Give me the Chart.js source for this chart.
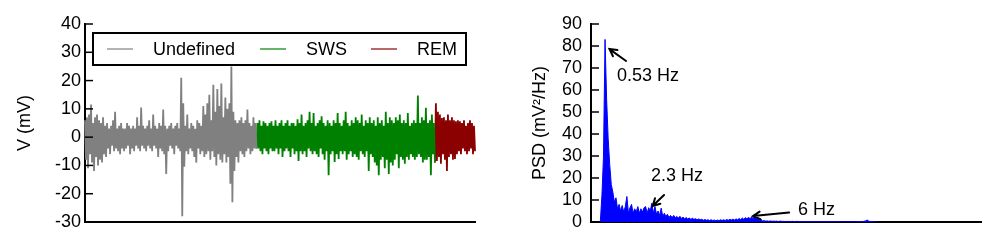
<!DOCTYPE html>
<html>
<head>
<meta charset="utf-8">
<script src="https://cdn.jsdelivr.net/npm/chart.js@4.4.1/dist/chart.umd.min.js"></script>
<style>
  body { margin: 0; background: #fff; }
  #wrap { position: relative; width: 997px; height: 248px; }
  canvas { position: absolute; top: 0; }
  #trace { left: 0; }
  #psd { left: 500px; }
</style>
</head>
<body>
<div id="wrap">
  <canvas id="trace" width="500" height="248"></canvas>
  <canvas id="psd" width="497" height="248"></canvas>
</div>
<script>
// sleep stages
const stages = ["Undefined", "SWS", "REM"];
const stageColors = ["#808080", "#008000", "#8b0000"];

// voltage trace (mV), alternating peaks and troughs
const undefinedV = [
  6, -8, 7, -11, 8, -6, 11.5, -9, 5, -12, 7, -7, 8, -10, 6, -8, 5, -9, 7, -6,
  4, -7, 5, -4, 3, -6, 4, -3, 6, -5, 9, -4, 3, -5, 4, -6, 5, -4, 3, -5,
  3, -4, 5, -3, 4, -6, 3, -4, 4, -5, 3, -3, 7, -4, 4, -5, 10.5, -3, 4, -4,
  3, -5, 4, -3, 6, -4, 3, -5, 8, -3, 4, -4, 3, -7, 5, -4, 4, -5, 9.8, -6,
  4, -13, 3, -5, 4, -3, 5, -4, 3, -6, 4, -3, 5, -4, 3, -5, 21, -28, 12, -10.5,
  4, -5, 8, -6, 3, -4, 5, -5, 4, -7, 3, -9, 6, -4, 5, -6, 4, -5, 11, -7,
  8, -6, 12, -5, 15, -8, 6, -5, 18.5, -7, 9, -10, 17, -6, 11, -8, 19, -9, 7, -6,
  14, -9, 10, -7, 12, -16.5, 25, -23, 9, -12, 6, -7, 5, -9, 6, -5, 7, -6, 5, -7,
  6, -5, 9.8, -4, 5, -6, 4, -5, 7, -4, 5, -4
];
const swsV = [
  5, -4, 6, -5, 4, -6, 5.6, -4, 5, -5, 4, -6, 5, -4, 5.6, -5, 4, -5, 6, -4,
  4, -6, 5, -4, 6, -7, 4, -5, 5, -4, 6, -5, 4, -7, 5, -4, 5, -6, 4, -5,
  6.3, -8.4, 5, -5, 8, -6, 4, -5, 5, -7, 6, -4, 9, -5, 5, -6, 8.5, -5, 4, -6,
  5, -7, 6, -4, 7.4, -6, 5, -8, 4, -5, 6, -13.5, 5, -6, 4, -5, 6, -8.8, 5, -6,
  8.5, -7.7, 5, -5, 4, -6, 6, -5, 9, -8, 5, -6, 4, -5, 6, -7, 5, -6, 7, -7,
  6, -8, 5, -5, 8, -6, 4, -7, 6, -5, 5, -12, 7, -6, 5, -7, 6, -9, 4, -10,
  7, -13.5, 5, -8, 6, -7, 4, -11, 9, -8, 5, -13, 7, -9, 6, -10, 5, -8, 7, -6,
  6, -11, 8, -7, 5, -8, 6, -9.4, 5, -7, 8.5, -8, 4, -6, 5, -7, 6, -8, 5, -7,
  14.7, -6, 5, -7, 7, -9, 6, -8, 10.4, -8, 5, -7, 6, -13.5, 8, -6, 5, -9
];
const remV = [
  12, -8.4, 9, -7, 8, -9.4, 6.8, -6, 7, -8, 6, -12, 8, -7, 6, -6, 7, -8, 6, -7.7,
  5.6, -6, 6, -5, 5.6, -6, 5, -4, 6, -5, 4, -6, 5, -5, 6, -4, 5, -6, 4, -5
];
const voltTicks = [-30, -20, -10, 0, 10, 20, 30, 40];

// power spectral density (mV^2/Hz), first bin and bin width in Hz
const psdStart = 0.36;
const psdStep = 0.06;
const psdPower = [
  0.5, 12, 29.5, 83, 56, 38, 26, 17, 13.6, 9,
  11, 6, 8, 5, 7.5, 4.5, 7, 11.6, 4, 6.5,
  8, 4, 6, 4.5, 7, 4, 6, 4.5, 6.5, 7,
  4, 6.5, 5, 8.5, 4, 7, 3.5, 5, 3, 6.3,
  2.5, 4, 2.5, 3.5, 2, 3, 2, 3, 2, 2.5,
  1.8, 2.6, 1.6, 2.2, 1.5, 2, 1.4, 1.8, 1.2, 1.7,
  1.2, 1.5, 1, 1.4, 1, 1.2, 0.8, 1.1, 0.8, 1,
  0.7, 1, 0.7, 0.9, 0.6, 0.9, 0.6, 1, 0.7, 1,
  0.7, 1.1, 0.8, 1.2, 0.9, 1.3, 0.9, 1.4, 1, 1.6,
  1.1, 1.8, 1.2, 2, 1.3, 2.2, 1.4, 2.4, 1.3, 3.5,
  1.2, 2, 0.8, 1.2, 0.5, 0.6, 0.4, 0.5, 0.3, 0.5,
  0.3, 0.4, 0.3, 0.4, 0.2, 0.4, 0.3, 0.3, 0.2, 0.3,
  0.2, 0.3, 0.2, 0.3, 0.2, 0.2, 0.3, 0.2, 0.2, 0.2,
  0.2, 0.2, 0.1, 0.2, 0.2, 0.1, 0.2, 0.1, 0.2, 0.1,
  0.1, 0.2, 0.1, 0.1, 0.2, 0.1, 0.1, 0.1, 0.2, 0.1,
  0.1, 0.1, 0.1, 0.2, 0.1, 0.1, 0.1, 0.1, 0.1, 0.2,
  0.1, 0.1, 0.1, 0.1, 0.1, 0.2, 0.1, 0.1, 0.2, 0.3,
  0.5, 0.9, 0.4, 0.2, 0.1, 0.1, 0.1, 0.1
];
const psdTicks = [0, 10, 20, 30, 40, 50, 60, 70, 80, 90];
const peakNotes = ["0.53 Hz", "2.3 Hz", "6 Hz"];

Chart.defaults.font.family = '"Liberation Sans", Arial, sans-serif';
Chart.defaults.font.size = 18;
Chart.defaults.color = '#000';
Chart.defaults.animation = false;

// matplotlib style ticks pointing into the plot
const inwardTicks = {
  id: 'inwardTicks',
  afterDraw(chart) {
    const { ctx, chartArea: ca } = chart;
    const ys = chart.scales.y;
    ctx.save();
    ctx.strokeStyle = '#000';
    ctx.lineWidth = 1.5;
    ys.ticks.forEach(t => {
      const y = ys.getPixelForValue(t.value);
      ctx.beginPath();
      ctx.moveTo(ca.left, y);
      ctx.lineTo(ca.left + 8, y);
      ctx.stroke();
    });
    ctx.restore();
  }
};

// framed legend inside the trace panel
const stageLegend = {
  id: 'stageLegend',
  afterDatasetsDraw(chart) {
    const { ctx, chartArea: ca } = chart;
    const x0 = ca.left + 8, y0 = ca.top + 9, w = 373, h = 32;
    const lineAt = [14, 167, 278];
    const textAt = [60, 213, 324];
    ctx.save();
    ctx.fillStyle = '#fff';
    ctx.fillRect(x0, y0, w, h);
    ctx.strokeStyle = '#000';
    ctx.lineWidth = 2;
    ctx.strokeRect(x0, y0, w, h);
    ctx.font = '18px "Liberation Sans", Arial, sans-serif';
    ctx.textBaseline = 'middle';
    chart.data.datasets.forEach((ds, i) => {
      const ym = y0 + h / 2;
      ctx.strokeStyle = ds.borderColor;
      ctx.lineWidth = 1.2;
      ctx.beginPath();
      ctx.moveTo(x0 + lineAt[i], ym);
      ctx.lineTo(x0 + lineAt[i] + 26, ym);
      ctx.stroke();
      ctx.fillStyle = '#000';
      ctx.fillText(ds.label, x0 + textAt[i], ym + 1);
    });
    ctx.restore();
  }
};

// labelled arrows on the spectrum
const peakArrows = [
  { tx: 1.0, ty: 66.4, from: [1.35, 73.2], to: [0.71, 78.6] },
  { tx: 2.31, ty: 20.9, from: [2.81, 12.3], to: [2.37, 7.3] },
  { tx: 7.96, ty: 5.5, from: [7.62, 4.3], to: [6.23, 2.7] }
];
const peakLabels = {
  id: 'peakLabels',
  afterDraw(chart) {
    const { ctx } = chart;
    const xs = chart.scales.x, ys = chart.scales.y;
    ctx.save();
    ctx.strokeStyle = '#000';
    ctx.fillStyle = '#000';
    ctx.lineWidth = 2;
    ctx.lineCap = 'round';
    ctx.font = '18px "Liberation Sans", Arial, sans-serif';
    ctx.textBaseline = 'middle';
    peakArrows.forEach((a, i) => {
      const x1 = xs.getPixelForValue(a.from[0]), y1 = ys.getPixelForValue(a.from[1]);
      const x2 = xs.getPixelForValue(a.to[0]), y2 = ys.getPixelForValue(a.to[1]);
      const ang = Math.atan2(y2 - y1, x2 - x1);
      ctx.beginPath();
      ctx.moveTo(x1, y1);
      ctx.lineTo(x2, y2);
      ctx.moveTo(x2 - 8 * Math.cos(ang - 0.5), y2 - 8 * Math.sin(ang - 0.5));
      ctx.lineTo(x2, y2);
      ctx.lineTo(x2 - 8 * Math.cos(ang + 0.5), y2 - 8 * Math.sin(ang + 0.5));
      ctx.stroke();
      ctx.fillText(peakNotes[i], xs.getPixelForValue(a.tx), ys.getPixelForValue(a.ty));
    });
    ctx.restore();
  }
};

// ---- trace panel ----
const nA = undefinedV.length, nB = swsV.length, nC = remV.length;
const n = nA + nB + nC;
const sampleIdx = Array.from({ length: n }, (_, i) => i);
const gap = k => Array(k).fill(null);
const stageSeries = [
  undefinedV.concat(gap(nB + nC)),
  gap(nA - 1).concat([undefinedV[nA - 1]], swsV, gap(nC)),
  gap(nA + nB - 1).concat([swsV[nB - 1]], remV)
];

new Chart(document.getElementById('trace'), {
  type: 'line',
  data: {
    labels: sampleIdx,
    datasets: stages.map((s, i) => ({
      label: s,
      data: stageSeries[i],
      borderColor: stageColors[i],
      borderWidth: 1.8,
      pointRadius: 0,
      tension: 0
    }))
  },
  options: {
    responsive: false,
    layout: { padding: { left: 0, top: 24, right: 25, bottom: 26 } },
    plugins: { legend: { display: false }, tooltip: { enabled: false } },
    scales: {
      x: {
        ticks: { display: false },
        grid: { display: false, drawTicks: false },
        border: { display: true, color: '#000', width: 2 },
        afterFit(axis) { axis.height = 0; }
      },
      y: {
        min: -30, max: 40,
        afterBuildTicks(axis) { axis.ticks = voltTicks.map(v => ({ value: v })); },
        ticks: { padding: 4, autoSkip: false },
        grid: { display: false, drawTicks: false },
        border: { display: true, color: '#000', width: 2 },
        title: { display: true, text: 'V (mV)', padding: { top: 14, bottom: 0 } },
        afterFit(axis) { axis.width = 85; }
      }
    }
  },
  plugins: [inwardTicks, stageLegend]
});

// ---- spectrum panel ----
const psdPoints = psdPower.map((p, i) => ({ x: psdStart + i * psdStep, y: p }));

new Chart(document.getElementById('psd'), {
  type: 'line',
  data: {
    datasets: [{
      label: 'PSD',
      data: psdPoints,
      borderColor: '#0000ff',
      backgroundColor: '#0000ff',
      borderWidth: 1,
      pointRadius: 0,
      tension: 0,
      fill: 'origin'
    }]
  },
  options: {
    responsive: false,
    layout: { padding: { left: 0, top: 24, right: 16, bottom: 26 } },
    plugins: { legend: { display: false }, tooltip: { enabled: false } },
    scales: {
      x: {
        type: 'linear', min: 0, max: 15,
        ticks: { display: false },
        grid: { display: false, drawTicks: false },
        border: { display: true, color: '#000', width: 2 },
        afterFit(axis) { axis.height = 0; }
      },
      y: {
        min: 0, max: 90,
        afterBuildTicks(axis) { axis.ticks = psdTicks.map(v => ({ value: v })); },
        ticks: { padding: 9, autoSkip: false },
        grid: { display: false, drawTicks: false },
        border: { display: true, color: '#000', width: 2 },
        title: { display: true, text: 'PSD (mV²/Hz)', padding: { top: 29, bottom: 0 } },
        afterFit(axis) { axis.width = 91; }
      }
    }
  },
  plugins: [inwardTicks, peakLabels]
});
</script>
</body>
</html>
